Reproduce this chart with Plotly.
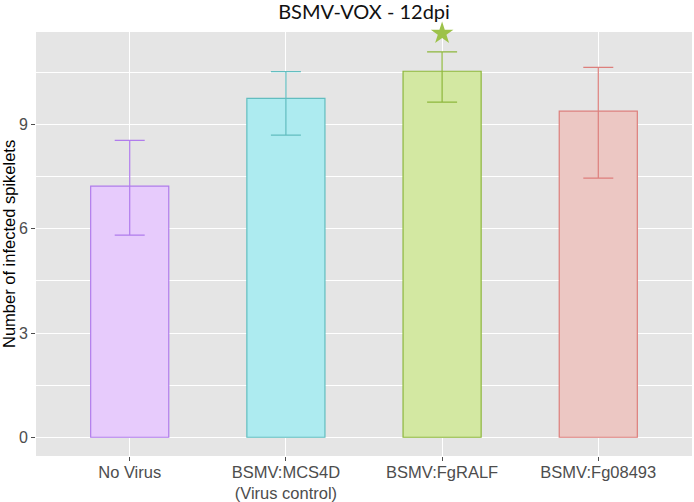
import plotly.graph_objects as go

categories = ["No Virus", "BSMV:MCS4D", "BSMV:FgRALF", "BSMV:Fg08493"]
tick_labels = ["No Virus", "BSMV:MCS4D<br>(Virus control)", "BSMV:FgRALF", "BSMV:Fg08493"]
means = [7.23, 9.76, 10.54, 9.39]
upper = [8.55, 10.53, 11.10, 10.65]
lower = [5.82, 8.70, 9.65, 7.46]
fill_colors = ["#E7CBFC", "#ADEBF0", "#D3E8A2", "#ECC7C3"]
line_colors = ["#B07CEC", "#62BDBF", "#8DB73C", "#DD7F7C"]
star_category = ["BSMV:FgRALF"]
star_value = [11.63]

fig = go.Figure()
for i, c in enumerate(categories):
    fig.add_trace(go.Bar(
        x=[c], y=[means[i]], width=0.5,
        marker=dict(color=fill_colors[i], line=dict(color=line_colors[i], width=1.2)),
        error_y=dict(type="data", symmetric=False,
                     array=[upper[i] - means[i]], arrayminus=[means[i] - lower[i]],
                     color=line_colors[i], thickness=1.2, width=15),
        showlegend=False, hoverinfo="skip"))

fig.add_trace(go.Scatter(
    x=star_category, y=star_value, mode="markers",
    marker=dict(symbol="star", size=17, color="#9DC24A", line=dict(width=0)),
    cliponaxis=False, showlegend=False))

sans = "Liberation Sans, Arial, sans-serif"
fig.update_layout(
    width=694, height=502,
    margin=dict(l=36, r=2, t=32, b=46, autoexpand=False),
    paper_bgcolor="white", plot_bgcolor="#E5E5E5",
    barmode="overlay",
    title=dict(text="BSMV-VOX - 12dpi", x=0.5, xref="paper", xanchor="center",
               y=0.977, yanchor="middle",
               font=dict(family="Lato, Open Sans, sans-serif", size=20, color="#111111")),
    font=dict(family=sans),
    xaxis=dict(type="category", categoryorder="array", categoryarray=categories,
               range=[-0.6, 3.6], tickvals=categories, ticktext=tick_labels,
               showgrid=True, gridcolor="white", gridwidth=1.4,
               ticks="outside", ticklen=4, tickcolor="#4D4D4D", tickwidth=1,
               ticklabelstandoff=-3,
               tickfont=dict(family=sans, size=16.5, color="#4D4D4D"),
               zeroline=False, showline=False, automargin=False),
    yaxis=dict(range=[-0.54, 11.67], tickvals=[0, 3, 6, 9], ticktext=["0", "3", "6", "9"],
               showgrid=True, gridcolor="white", gridwidth=1.4,
               minor=dict(tickvals=[1.5, 4.5, 7.5, 10.5], showgrid=True, gridcolor="white",
                          gridwidth=0.7, ticks=""),
               ticks="outside", ticklen=4, tickcolor="#4D4D4D", tickwidth=1,
               tickfont=dict(family=sans, size=16, color="#4D4D4D"),
               zeroline=False, showline=False, automargin=False),
    annotations=[dict(text="Number of infected spikelets", x=0, xref="paper", xshift=-27,
                      y=0.5, yref="paper", textangle=-90, showarrow=False,
                      xanchor="center", yanchor="middle",
                      font=dict(family=sans, size=16.5, color="#000000"))],
)

fig.write_html("out.html", config={"displayModeBar": False},
               post_script="document.body.style.margin='0';")
